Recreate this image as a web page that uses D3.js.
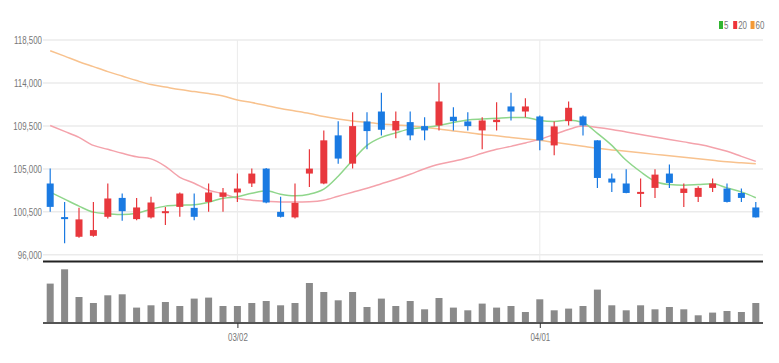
<!DOCTYPE html>
<html>
<head>
<meta charset="utf-8">
<script src="https://cdn.jsdelivr.net/npm/d3@7"></script>
<style>
  body { margin: 0; background: #fff; }
  svg text { font-family: "Liberation Sans", Arial, sans-serif; fill: #777; }
</style>
</head>
<body>
<div id="chart"></div>
<script>
const dates = ["02/10","02/11","02/14","02/15","02/16","02/17","02/18","02/21","02/22","02/23",
  "02/24","02/25","02/28","03/02","03/03","03/04","03/07","03/08","03/10","03/11",
  "03/14","03/15","03/16","03/17","03/18","03/21","03/22","03/23","03/24","03/25",
  "03/28","03/29","03/30","03/31","04/01","04/04","04/05","04/06","04/07","04/08",
  "04/11","04/12","04/13","04/14","04/15","04/18","04/19","04/20","04/21","04/22"];

const opens  = [103470, 99950, 97890, 97990, 99980, 101960, 99740, 99920, 100400, 101020,
  100920, 101540, 102070, 102530, 103470, 105030, 100500, 99920, 104510, 103470,
  108510, 105550, 109970, 111010, 109030, 109900, 109480, 109550, 110460, 109970,
  109030, 109900, 111540, 111010, 110490, 107460, 110000, 110490, 107990, 103990,
  103470, 102380, 103010, 104510, 102480, 102070, 103010, 102940, 102480, 100960];
const highs  = [105030, 101540, 100920, 101540, 103470, 102420, 101960, 102070, 101020, 102530,
  102420, 103470, 103010, 104510, 105030, 105100, 102070, 103470, 107050, 109030,
  110000, 110940, 110940, 112970, 111010, 111010, 110420, 114010, 111460, 110940,
  110420, 111980, 112970, 112400, 110600, 109970, 112060, 110600, 108000, 104510,
  104960, 103990, 104960, 105450, 103470, 103180, 103990, 103470, 102940, 101540];
const lows   = [100500, 97200, 97800, 97900, 99810, 99560, 99630, 99810, 99110, 99980,
  99630, 100500, 100500, 101540, 103110, 101400, 99900, 99810, 103110, 103400,
  105550, 105030, 107050, 108510, 108200, 107990, 107990, 109030, 109030, 109030,
  107050, 109030, 110070, 110420, 106940, 106420, 109550, 108510, 103010, 102590,
  102450, 101020, 101960, 103010, 101020, 101540, 102590, 101480, 101540, 99900];
const closes = [101020, 99740, 99710, 98590, 101900, 100570, 100960, 101480, 100570, 102420,
  99980, 102530, 102530, 102940, 104510, 101480, 99980, 101440, 105030, 107990,
  106080, 109480, 108960, 109100, 110020, 108510, 109030, 112060, 110000, 109480,
  110070, 110150, 111010, 111540, 107990, 109450, 111400, 109550, 104050, 103570,
  102480, 102590, 104400, 103530, 102940, 103010, 103470, 101540, 101960, 99920];

const volumes = [394000, 537000, 260000, 200000, 277000, 287000, 154000, 177000, 210000, 170000,
  244000, 254000, 170000, 170000, 200000, 220000, 177000, 200000, 400000, 310000,
  227000, 310000, 160000, 244000, 170000, 220000, 137000, 250000, 154000, 127000,
  194000, 154000, 170000, 110000, 237000, 127000, 144000, 170000, 334000, 177000,
  127000, 177000, 137000, 160000, 137000, 77000, 104000, 120000, 110000, 200000];

const ma5  = [102560, 101830, 101100, 100470, 100310, 100210, 100360, 100780, 101100, 101200,
  101250, 101510, 101930, 102090, 102450, 102710, 102350, 102190, 102350, 102870,
  104230, 105900, 107460, 108300, 108770, 109190, 109340, 109550, 109860, 110130,
  110230, 110310, 110390, 110390, 110070, 109970, 110130, 109860, 108720, 107460,
  105900, 104700, 103710, 103360, 103290, 103360, 103440, 103010, 102590, 101980];
const ma20 = [109550, 108930, 108300, 107460, 107050, 106630, 106260, 106050, 105270, 104120,
  103500, 102770, 102400, 101930, 101720, 101620, 101540, 101540, 101570, 101720,
  102140, 102560, 102970, 103440, 103910, 104440, 105010, 105480, 105790, 106160,
  106630, 107050, 107360, 107720, 108090, 108610, 109130, 109480, 109340, 109130,
  108870, 108610, 108350, 108090, 107830, 107570, 107250, 106840, 106310, 105790];
const ma60 = [117380, 116810, 116230, 115710, 115190, 114720, 114250, 113830, 113570, 113310,
  113100, 112890, 112630, 112210, 111950, 111640, 111330, 111070, 110800, 110490,
  110230, 110020, 109860, 109710, 109600, 109500, 109340, 109190, 108980, 108820,
  108610, 108460, 108300, 108140, 107990, 107780, 107570, 107360, 107150, 106990,
  106840, 106680, 106520, 106370, 106210, 106050, 105900, 105740, 105640, 105530];

const priceTicks = [96000, 100500, 105000, 109500, 114000, 118500];
const dateTicks = ["03/02", "04/01"];

const legendItems = [
  { label: "5", color: "#31b531", line: "#8fd68b", data: ma5 },
  { label: "20", color: "#ee3338", line: "#f4a2ab", data: ma20 },
  { label: "60", color: "#f39a36", line: "#f8c28e", data: ma60 }
];

const width = 779, height = 363;
const left = 43, right = 763;

// the original labels use a very narrow face, squeeze the glyphs
function condense(sel, k) {
  sel.each(function() {
    const w = this.getComputedTextLength();
    d3.select(this).attr("textLength", w * k).attr("lengthAdjust", "spacingAndGlyphs");
  });
}

const svg = d3.select("#chart").append("svg")
  .attr("width", width)
  .attr("height", height);

const x = d3.scalePoint().domain(dates).range([left, right]).padding(0.5);
const y = d3.scaleLinear().domain([95300, 118500]).range([261.5, 40]);
const yVol = d3.scaleLinear().domain([0, 600000]).range([323, 263]);

// grid
svg.append("g")
  .selectAll("line")
  .data(priceTicks)
  .enter().append("line")
  .attr("x1", left).attr("x2", right)
  .attr("y1", d => y(d)).attr("y2", d => y(d))
  .attr("stroke", "#ebebeb")
  .attr("stroke-width", 1.5);

svg.append("g")
  .selectAll("line")
  .data(dateTicks)
  .enter().append("line")
  .attr("x1", d => x(d)).attr("x2", d => x(d))
  .attr("y1", y(118500)).attr("y2", y(95300))
  .attr("stroke", "#ebebeb")
  .attr("stroke-width", 1);

// price axis labels
const yAxis = d3.axisLeft(y)
  .tickValues(priceTicks)
  .tickFormat(d3.format(","))
  .tickSize(0)
  .tickPadding(1);

const yAxisG = svg.append("g")
  .attr("transform", `translate(${left},0)`)
  .call(yAxis);
yAxisG.select(".domain").remove();
yAxisG.selectAll("text").style("font-size", "11px").attr("fill", "#777");
condense(yAxisG.selectAll("text"), 0.72);

// moving averages
const line = d3.line()
  .x((d, i) => x(dates[i]))
  .y(d => y(d))
  .curve(d3.curveMonotoneX);

legendItems.slice().reverse().forEach(item => {
  svg.append("path")
    .datum(item.data)
    .attr("fill", "none")
    .attr("stroke", item.line)
    .attr("stroke-width", 1.5)
    .attr("d", line);
});

// candles
const candles = dates.map((d, i) => ({ date: d, o: opens[i], h: highs[i], l: lows[i], c: closes[i] }));
const upColor = "#e8383d", downColor = "#1a7ae2";
const bodyW = 7;

const cg = svg.append("g")
  .selectAll("g")
  .data(candles)
  .enter().append("g");

cg.append("line")
  .attr("x1", d => x(d.date)).attr("x2", d => x(d.date))
  .attr("y1", d => y(d.h)).attr("y2", d => y(d.l))
  .attr("stroke", d => d.c >= d.o ? upColor : downColor)
  .attr("stroke-width", 1.2);

cg.append("rect")
  .attr("x", d => x(d.date) - bodyW / 2)
  .attr("width", bodyW)
  .attr("y", d => y(Math.max(d.o, d.c)))
  .attr("height", d => Math.max(2, Math.abs(y(d.o) - y(d.c))))
  .attr("fill", d => d.c >= d.o ? upColor : downColor);

// separator line under the price panel
svg.append("line")
  .attr("x1", left).attr("x2", right)
  .attr("y1", y(95300)).attr("y2", y(95300))
  .attr("stroke", "#222")
  .attr("stroke-width", 2);

// volume
svg.append("g")
  .selectAll("rect")
  .data(volumes)
  .enter().append("rect")
  .attr("x", (d, i) => x(dates[i]) - bodyW / 2)
  .attr("width", bodyW)
  .attr("y", d => yVol(d))
  .attr("height", d => yVol(0) - yVol(d))
  .attr("fill", "#8a8a8a");

const xAxis = d3.axisBottom(x)
  .tickValues(dateTicks)
  .tickSize(5)
  .tickPadding(5);

const xAxisG = svg.append("g")
  .attr("transform", `translate(0,${yVol(0)})`)
  .call(xAxis);
xAxisG.select(".domain")
  .attr("d", `M${left},0H${right}`)
  .attr("stroke", "#555")
  .attr("stroke-width", 2);
xAxisG.selectAll(".tick line").attr("stroke", "#333");
xAxisG.selectAll("text").style("font-size", "11px").attr("fill", "#777");
condense(xAxisG.selectAll("text"), 0.72);

// legend
const legend = svg.append("g").attr("transform", "translate(719,25)");
let lx = 0;
legendItems.forEach(item => {
  legend.append("rect")
    .attr("x", lx).attr("y", -4)
    .attr("width", 4).attr("height", 8)
    .attr("fill", item.color);
  const t = legend.append("text")
    .attr("x", lx + 5).attr("y", 4)
    .style("font-size", "11px")
    .attr("fill", "#777")
    .text(item.label);
  condense(t, 0.72);
  lx += 5 + t.node().getComputedTextLength() * 0.72 + 6;
});
</script>
</body>
</html>
